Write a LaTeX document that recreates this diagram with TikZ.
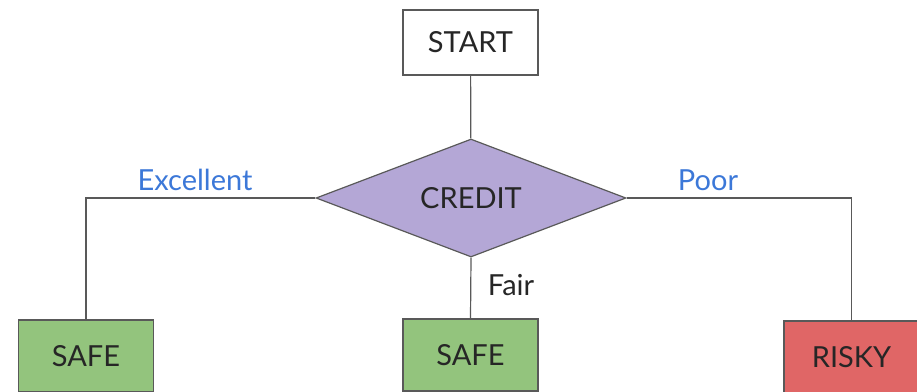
\documentclass[tikz,border=0pt]{standalone}
\usepackage{fontspec}
\setmainfont{Lato}
\usetikzlibrary{shapes.geometric}

\definecolor{linegray}{HTML}{595959}
\definecolor{creditpurple}{HTML}{B4A7D6}
\definecolor{safegreen}{HTML}{93C47D}
\definecolor{riskyred}{HTML}{E06666}
\definecolor{labelblue}{HTML}{3C78D8}

\begin{document}
\begin{tikzpicture}[x=1pt, y=-1pt,
	every node/.style={font=\fontsize{29}{33}\selectfont, text=black!85},
	box/.style={shape=rectangle, draw=linegray, line width=1.2pt, minimum width=135pt, minimum height=72pt, inner sep=0pt},
	link/.style={draw=linegray, line width=1.2pt},
	branch/.style={text=labelblue}]
	\useasboundingbox (0, 0) rectangle (917, 391);

	\node[box, fill=white, minimum height=65pt] (start) at (470.5, 42.5) {START};
	\node[shape=diamond, aspect=2.6, draw=linegray, line width=1.2pt, fill=creditpurple, minimum width=310pt, minimum height=118pt, inner sep=0pt] (credit) at (471, 198) {CREDIT};

	\node[box, fill=safegreen] (safeL) at (86, 356) {SAFE};
	\node[box, fill=safegreen] (safeM) at (470.5, 355) {SAFE};
	\node[box, fill=riskyred] (risky) at (851.5, 357) {RISKY};

	\node[branch] (excellent) at (195, 180) {Excellent};
	\node[branch] (poor) at (708, 180) {Poor};
	\node (fair) at (511, 285) {Fair};

	\path [link] (start) -- (credit);
	\path [link] (credit.west) -| (safeL.north);
	\path [link] (credit.south) -- (safeM.north);
	\path [link] (credit.east) -| (risky.north);

\end{tikzpicture}
\end{document}
